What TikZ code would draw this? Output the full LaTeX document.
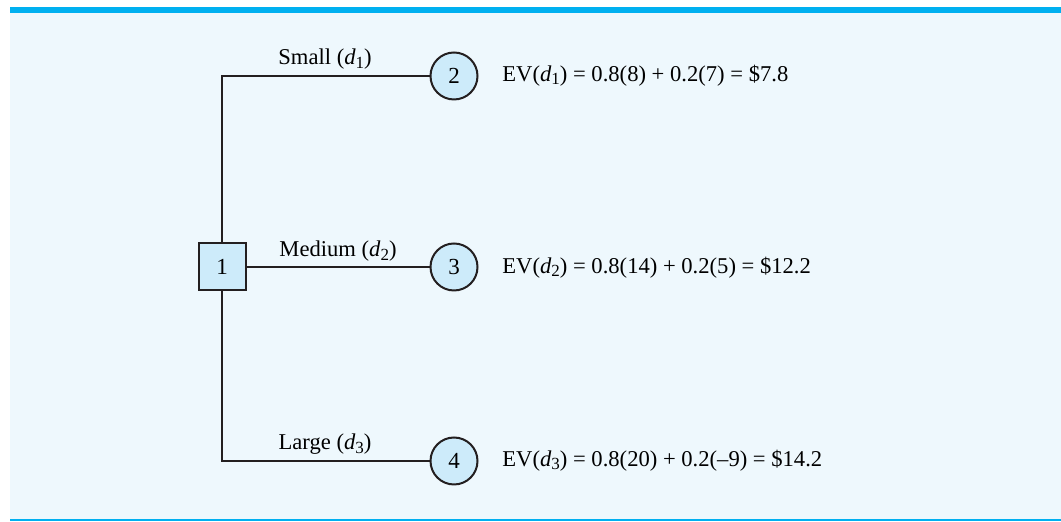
\documentclass[tikz,border=0pt]{standalone}
\usepackage{fontspec}
\setmainfont{Liberation Serif}
\definecolor{barblue}{HTML}{00B0F0}
\definecolor{panel}{HTML}{EEF8FD}
\definecolor{nodefill}{HTML}{CDEBFA}
\definecolor{ink}{HTML}{231F20}
\newcommand{\dsub}[1]{\textit{d}\raisebox{-0.3ex}{\fontsize{8.5}{10}\selectfont #1}}
\begin{document}
\begin{tikzpicture}[x=0.5pt,y=-0.5pt,
  decision/.style={draw=ink,line width=1pt,fill=nodefill,rectangle,minimum size=23.5pt,inner sep=0pt,font=\fontsize{11.5}{13}\selectfont},
  chance/.style={draw=ink,line width=1pt,fill=nodefill,circle,minimum size=23.5pt,inner sep=0pt,font=\fontsize{11.5}{13}\selectfont},
  branch/.style={draw=ink,line width=1pt},
  blabel/.style={font=\fontsize{11.3}{13}\selectfont,inner sep=0pt,anchor=base},
  ev/.style={font=\fontsize{11.3}{13}\selectfont,inner sep=0pt,anchor=west}]
\useasboundingbox (0,0) rectangle (1061,522);
\fill[panel] (10,13) rectangle (1061,519);
\fill[barblue] (10,7) rectangle (1061,13);
\fill[barblue] (10,519) rectangle (1061,521);
\node[decision] (n1) at (222,267) {1};
\node[chance] (n2) at (454,76) {2};
\node[chance] (n3) at (454,267) {3};
\node[chance] (n4) at (454,461) {4};
\coordinate (t) at (222,76);
\coordinate (b) at (222,461);
\draw[branch] (n1.north) -- (t) -- (n2.west);
\draw[branch] (n1.east) -- (n3.west);
\draw[branch] (n1.south) -- (b) -- (n4.west);
\node[blabel] (l1) at (325,65) {Small (\dsub{1})};
\node[blabel] (l2) at (338,257) {Medium (\dsub{2})};
\node[blabel] (l3) at (325,450) {Large (\dsub{3})};
\node[ev] (e1) at (502,76) {EV(\dsub{1}) = 0.8(8) + 0.2(7) = \$7.8};
\node[ev] (e2) at (502,268) {EV(\dsub{2}) = 0.8(14) + 0.2(5) = \$12.2};
\node[ev] (e3) at (502,461) {EV(\dsub{3}) = 0.8(20) + 0.2(--9) = \$14.2};
\end{tikzpicture}
\end{document}
